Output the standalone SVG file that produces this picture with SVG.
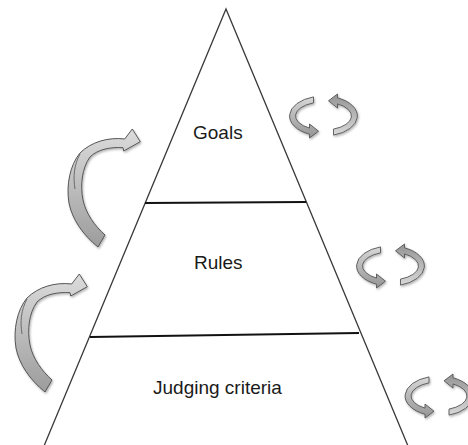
<svg xmlns="http://www.w3.org/2000/svg" width="468" height="445" viewBox="0 0 468 445">
<style>
.lbl{font-family:"Liberation Sans",Arial,sans-serif;font-size:19px;fill:#1a1a1a}
.tri{fill:none;stroke:#3a3a3a;stroke-width:1.3}
.div{stroke:#111;stroke-width:2}
.big{fill:url(#gBig);stroke:#555;stroke-width:1}
.twist{fill:none;stroke:#555;stroke-width:0.8}
.cyc{fill:url(#gCyc);stroke:#555;stroke-width:0.9}
</style>
<defs>
<linearGradient id="gBig" x1="0" y1="0" x2="0" y2="1">
<stop offset="0" stop-color="#dcdcdc"/>
<stop offset="1" stop-color="#9c9c9c"/>
</linearGradient>
<linearGradient id="gCyc" x1="0" y1="0" x2="0" y2="1">
<stop offset="0" stop-color="#d8d8d8"/>
<stop offset="1" stop-color="#949494"/>
</linearGradient>
<filter id="sh" x="-20%" y="-20%" width="140%" height="140%">
<feDropShadow dx="1" dy="1.5" stdDeviation="1.2" flood-color="#000" flood-opacity="0.3"/>
</filter>
<path id="bigArrow" d="M71.7,284 C55,282 38,287 27,298 C17,310 13,330 16,348 C19,364 30,380 45,392 L52,380 C42,371 33,359 30,345 C27,330 29,313 37,302 C45,294 58,292 70,292.7 L70.7,296 L87.3,286.7 L79.3,274 Z"/>
<path id="bigTwist" d="M27,299 C21,310 20,322 22,334"/>
<g id="cycle">
<path d="M-10,-19.1 A34 20 0 0 0 -14,18.2 L-14,22 L-5,15.2 L-14,8 L-14,12.1 A28 14 0 0 1 -10,-13.1 Z"/>
<path d="M-10,-19.1 A34 20 0 0 0 -14,18.2 L-14,22 L-5,15.2 L-14,8 L-14,12.1 A28 14 0 0 1 -10,-13.1 Z" transform="rotate(180)"/>
</g>
</defs>
<g id="pyramid">
<path class="tri" d="M44,446 L226,9 L408,446"/>
</g>
<g id="connectors">
<line class="div" x1="145" y1="203" x2="306" y2="202"/>
<line class="div" x1="90" y1="337" x2="359" y2="333"/>
</g>
<g id="goals"><text class="lbl" x="193" y="139">Goals</text></g>
<g id="rules"><text class="lbl" x="194" y="269">Rules</text></g>
<g id="judging"><text class="lbl" x="153" y="394">Judging criteria</text></g>
<g id="arrow-upper" transform="translate(53,-145)">
<use href="#bigArrow" class="big" filter="url(#sh)"/>
<use href="#bigTwist" class="twist"/>
</g>
<g id="arrow-lower">
<use href="#bigArrow" class="big" filter="url(#sh)"/>
<use href="#bigTwist" class="twist"/>
</g>
<g id="cycle-goals" filter="url(#sh)"><use href="#cycle" class="cyc" transform="translate(323.5,116)"/></g>
<g id="cycle-rules" filter="url(#sh)"><use href="#cycle" class="cyc" transform="translate(390.5,266)"/></g>
<g id="cycle-judging" filter="url(#sh)"><use href="#cycle" class="cyc" transform="translate(439,396)"/></g>
</svg>
